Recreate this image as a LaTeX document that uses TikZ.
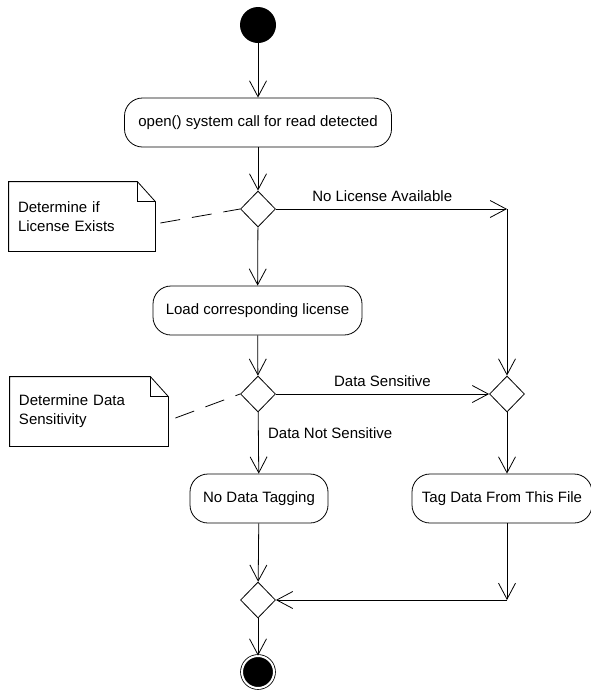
\documentclass[tikz,border=0pt]{standalone}
\usepackage{fontspec}
\setmainfont{Liberation Sans}
\usetikzlibrary{positioning}
\usetikzlibrary{shapes.geometric, arrows.meta, calc}
\tikzstyle{activity} = [rectangle, rounded corners=18pt, draw=black, minimum height=49pt, text centered, inner sep=2pt]
\tikzstyle{decision} = [diamond, draw=black, minimum width=35pt, minimum height=36pt, inner sep=0pt]
\tikzstyle{notebox} = [rectangle, minimum height=69pt, align=left, inner sep=9pt]
\tikzstyle{arrow} = [line width=0.8pt, -{Straight Barb[length=16pt,width=17pt]}]
\tikzstyle{anchorline} = [line width=0.8pt, dash pattern=on 20pt off 12pt]

\begin{document}
\begin{tikzpicture}[x=1pt,y=-1pt,line width=0.8pt,every node/.style={font=\fontsize{15}{19}\selectfont}]
    \useasboundingbox (0,0) rectangle (591,691);
    % start and end
    \node[shape=circle,fill=black,minimum size=36pt,inner sep=0pt] (start) at (258,25) {};
    \node[shape=circle,draw=black,fill=black,double=white,double distance=2pt,minimum size=32pt,inner sep=0pt] (end) at (258,672) {};
    % activities
    \node[activity, minimum width=267pt] (open) at (258,122.5) {open() system call for read detected};
    \node[activity, minimum width=209pt] (load) at (257.5,310.5) {Load corresponding license};
    \node[activity, minimum width=138pt] (nodata) at (259,498.5) {No Data Tagging};
    \node[activity, minimum width=180pt] (tag) at (502,498.5) {Tag Data From This File};
    % decisions
    \node[decision] (d1) at (258,209) {};
    \node[decision] (d2) at (258,394) {};
    \node[decision] (d3) at (507,394) {};
    \node[decision] (d4) at (258,600) {};
    \coordinate (c1) at (507,209);
    \coordinate (c2) at (507,600);
    % notes
    \node[notebox, text width=128pt] (n1) at (82,216.5) {Determine if\\License Exists};
    \node[notebox, text width=140pt] (n2) at (89,411.5) {Determine Data\\Sensitivity};
    \foreach \n in {n1,n2} {
        \draw (\n.north west) -- ($(\n.north east)+(-18,0)$) -- ($(\n.north east)+(0,20)$) -- (\n.south east) -- (\n.south west) -- cycle;
        \draw ($(\n.north east)+(-18,0)$) -- ($(\n.north east)+(-18,20)$) -- ($(\n.north east)+(0,20)$);
    }
    \path [anchorline] ($(n1.east)+(5,6.5)$) edge (d1.west);
    \path [anchorline] ($(n2.east)+(7,6.5)$) edge (d2.west);
    % flow
    \path [arrow] (start) edge (open);
    \path [arrow] (open) edge (d1);
    \path [arrow] (d1) edge (load);
    \path [arrow] (load) edge (d2);
    \path [arrow] (d2) edge node[right=6pt,pos=0.34] {Data Not Sensitive} (nodata);
    \path [arrow] (nodata) edge (d4);
    \path [arrow] (d4) edge (end);
    \path [arrow] (d1) edge node[above=4pt,pos=0.46] {No License Available} (c1);
    \path [arrow] (c1) edge (d3);
    \path [arrow] (d2) edge node[above=4pt] {Data Sensitive} (d3);
    \path [arrow] (d3.south) edge (d3.south |- tag.north);
    \path [arrow] (c2 |- tag.south) edge (c2);
    \path [arrow] (c2) edge (d4);
\end{tikzpicture}
\end{document}
